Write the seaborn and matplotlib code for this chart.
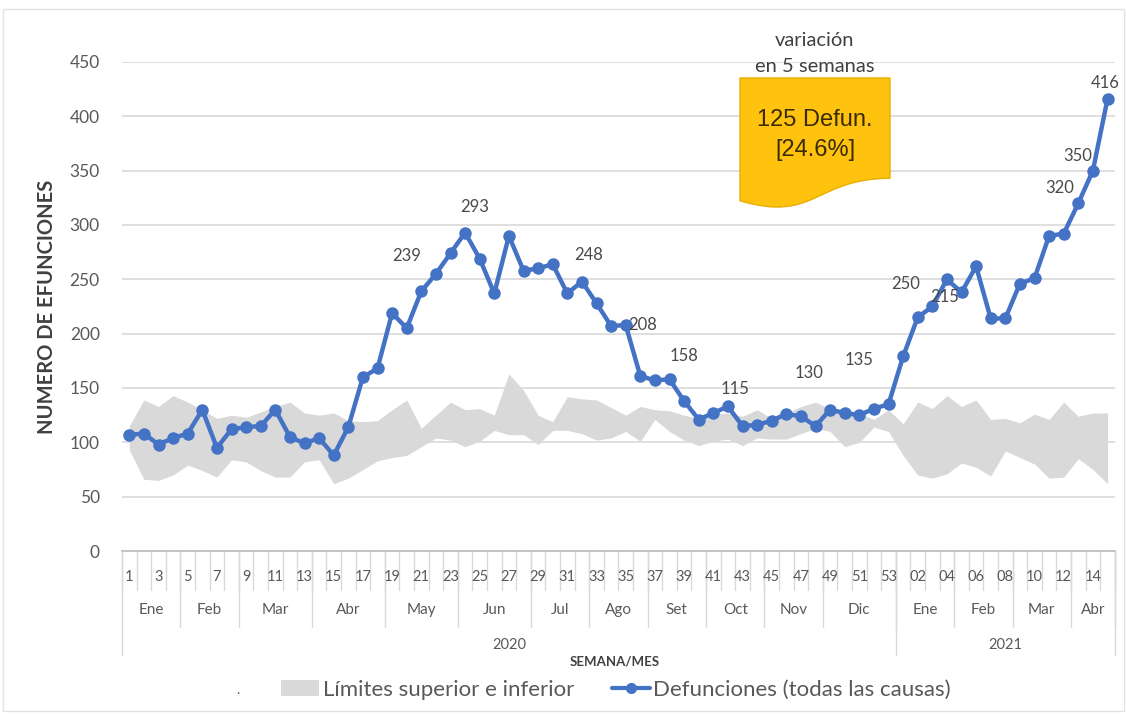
import numpy as np
import pandas as pd
import seaborn as sns
import matplotlib.pyplot as plt
from matplotlib.path import Path
from matplotlib.patches import PathPatch, Patch, Rectangle
from matplotlib.lines import Line2D
from matplotlib.transforms import Affine2D, blended_transform_factory

# semanas epidemiologicas
semanas_2020 = list(range(1, 54))
semanas_2021 = list(range(1, 16))

defunciones_2020 = [107, 108, 98, 104, 108, 130, 95, 112, 114, 115,
                    130, 105, 99, 104, 88, 114, 160, 168, 219, 205,
                    239, 255, 274, 293, 269, 237, 290, 258, 260, 264,
                    237, 248, 228, 207, 208, 161, 157, 158, 138, 121,
                    127, 133, 115, 116, 120, 126, 124, 115, 130, 127,
                    125, 131, 135]
defunciones_2021 = [179, 215, 225, 250, 238, 262, 214, 214, 246, 251,
                    290, 292, 320, 350, 416]

limite_sup_2020 = [115, 139, 133, 143, 137, 130, 122, 125, 123, 128,
                   133, 137, 127, 125, 127, 120, 119, 120, 130, 139,
                   113, 125, 137, 130, 131, 125, 163, 148, 125, 119,
                   142, 140, 139, 132, 125, 133, 130, 129, 125, 122,
                   126, 127, 124, 130, 122, 127, 133, 137, 131, 129,
                   127, 121, 130]
limite_sup_2021 = [117, 137, 131, 143, 133, 139, 121, 122, 118, 126,
                   121, 137, 124, 127, 127]
limite_inf_2020 = [93, 66, 65, 70, 79, 74, 68, 84, 82, 74,
                   68, 68, 82, 84, 62, 67, 75, 83, 86, 88,
                   96, 104, 102, 96, 101, 111, 107, 107, 98, 111,
                   111, 108, 102, 104, 110, 101, 121, 110, 102, 97,
                   101, 103, 97, 104, 103, 103, 108, 113, 110, 96,
                   100, 114, 110]
limite_inf_2021 = [88, 70, 67, 71, 81, 77, 69, 92, 86, 80,
                   67, 68, 85, 75, 62]

meses_2020 = ["Ene", "Feb", "Mar", "Abr", "May", "Jun", "Jul", "Ago", "Set", "Oct", "Nov", "Dic"]
semanas_por_mes_2020 = [4, 4, 5, 5, 5, 5, 4, 4, 4, 4, 4, 5]
meses_2021 = ["Ene", "Feb", "Mar", "Abr"]
semanas_por_mes_2021 = [4, 4, 4, 3]
anios = ["2020", "2021"]

# etiquetas de datos: (anio, semana)
etiquetas = [("2020", 21), ("2020", 24), ("2020", 32), ("2020", 35), ("2020", 38),
             ("2020", 43), ("2020", 49), ("2020", 53), ("2021", 4), ("2021", 2),
             ("2021", 13), ("2021", 14), ("2021", 15)]
desplaz = [(-15, 35), (10, 26), (7, 27), (17, 0), (15, 23),
           (-7, 37), (-21, 37), (-29, 44), (-41, -5), (27, 20),
           (-19, 15), (-15, 15), (-2, 16)]

df = pd.DataFrame({
    "anio": ["2020"] * len(semanas_2020) + ["2021"] * len(semanas_2021),
    "semana": semanas_2020 + semanas_2021,
    "defunciones": defunciones_2020 + defunciones_2021,
    "sup": limite_sup_2020 + limite_sup_2021,
    "inf": limite_inf_2020 + limite_inf_2021,
})
df["idx"] = np.arange(len(df))

sns.set_theme(style="white")
plt.rcParams["font.family"] = ["Lato", "DejaVu Sans"]

W, H = 1126, 718
fig = plt.figure(figsize=(W / 100, H / 100), dpi=100)
ax = fig.add_axes([122 / W, 1 - 551 / H, (1114.8 - 122) / W, (551 - 62) / H])

gris = "#D9D9D9"
azul = "#4472C4"
texto = "#595959"

ax.fill_between(df["idx"], df["inf"], df["sup"], color=gris, lw=0, zorder=1)
sns.lineplot(data=df, x="idx", y="defunciones", ax=ax, color=azul, lw=3.2,
             marker="o", markersize=9, markeredgewidth=0, zorder=3)

ax.set_xlim(-0.5, len(df) - 0.5)
ax.set_ylim(0, 450)
ax.set_yticks(range(0, 451, 50))
ax.tick_params(axis="y", length=0, pad=16, labelsize=12.5, labelcolor=texto)
ax.set_xticks([])
ax.set_xlabel("")
ax.set_ylabel("")
ax.yaxis.grid(True, color=gris, lw=1.2)
ax.set_axisbelow(True)
for s in ["top", "right", "left"]:
    ax.spines[s].set_visible(False)
ax.spines["bottom"].set_color("#BFBFBF")

# etiquetas de datos
for (anio, sem), (dx, dy) in zip(etiquetas, desplaz):
    fila = df[(df["anio"] == anio) & (df["semana"] == sem)].iloc[0]
    ax.annotate(str(fila["defunciones"]), xy=(fila["idx"], fila["defunciones"]),
                xytext=(dx, dy), textcoords="offset pixels", ha="center", va="center",
                fontsize=12, color="#4a4a4a", zorder=5)

# eje x de varios niveles
tr = blended_transform_factory(ax.transData, ax.transAxes)
lin = dict(transform=tr, clip_on=False, color=gris, lw=1)
for i in range(len(df) + 1):
    ax.plot([i - 0.5, i - 0.5], [0, -0.080], **lin)
for _, fila in df.iterrows():
    if fila["anio"] == "2020" and fila["semana"] % 2 == 1:
        ax.text(fila["idx"], -0.053, str(fila["semana"]), transform=tr,
                ha="center", va="center", fontsize=10.5, color=texto)
    if fila["anio"] == "2021" and fila["semana"] % 2 == 0:
        ax.text(fila["idx"], -0.053, "%02d" % fila["semana"], transform=tr,
                ha="center", va="center", fontsize=10.5, color=texto)

inicio = 0
bordes_anio = [-0.5]
for meses, cuentas in [(meses_2020, semanas_por_mes_2020), (meses_2021, semanas_por_mes_2021)]:
    for mes, n in zip(meses, cuentas):
        ax.text(inicio + (n - 1) / 2, -0.121, mes, transform=tr, ha="center",
                va="center", fontsize=11, color=texto)
        ax.plot([inicio + n - 0.5] * 2, [0, -0.155], **lin)
        inicio += n
    bordes_anio.append(inicio - 0.5)
for b in bordes_anio:
    ax.plot([b, b], [0, -0.213], **lin)
for j, anio in enumerate(anios):
    ax.text((bordes_anio[j] + bordes_anio[j + 1]) / 2, -0.192, anio, transform=tr,
            ha="center", va="center", fontsize=10.5, color=texto)

# marco exterior
fig.patches.append(Rectangle((0.003, 0.01), 0.995, 0.978, transform=fig.transFigure,
                             fill=False, edgecolor="#E3E3E3", lw=1))

# textos de figura
fig.text(47 / W, 1 - 307 / H, "NUMERO DE EFUNCIONES", rotation=90, ha="center",
         va="center", fontsize=14.5, fontweight="bold", color="#404040")
fig.text(615 / W, 1 - 662 / H, "SEMANA/MES", ha="center", va="center",
         fontsize=9.5, fontweight="bold", color="#404040")
fig.text(238 / W, 1 - 690 / H, ".", ha="center", va="center", fontsize=10, color=texto)

# leyenda
handles = [Patch(facecolor=gris, edgecolor="none"),
           Line2D([], [], color=azul, lw=3, marker="o", markersize=8, markeredgewidth=0)]
leg = fig.legend(handles, ["Límites superior e inferior", "Defunciones (todas las causas)"],
                 loc="center", bbox_to_anchor=(616 / W, 1 - 690 / H), ncol=2, frameon=False,
                 fontsize=16, handlelength=1.7, handletextpad=0.15, columnspacing=1.7)
for t in leg.get_texts():
    t.set_color(texto)

# recuadro de variacion
px = Affine2D().scale(1 / W, -1 / H).translate(0, 1) + fig.transFigure
x0, y0, w, h = 740, 78, 150, 132
verts = [(x0, y0), (x0 + w, y0), (x0 + w, y0 + 0.76 * h),
         (x0 + 0.5 * w, y0 + 0.76 * h), (x0 + 0.5 * w, y0 + 1.1 * h), (x0, y0 + 0.93 * h),
         (x0, y0)]
codes = [Path.MOVETO, Path.LINETO, Path.LINETO, Path.CURVE4, Path.CURVE4, Path.CURVE4,
         Path.CLOSEPOLY]
fig.patches.append(PathPatch(Path(verts, codes), transform=px, facecolor="#FFC20E",
                             edgecolor="#E8AE00", lw=1, zorder=5))
fig.text(815 / W, 1 - 120 / H, "125 Defun.", ha="center", va="center", fontsize=17,
         color="#3A2C00", family="Liberation Sans", zorder=6)
fig.text(815 / W, 1 - 150 / H, "[24.6%]", ha="center", va="center", fontsize=17,
         color="#3A2C00", family="Liberation Sans", zorder=6)
fig.text(815 / W, 1 - 40 / H, "variación", ha="center", va="center", fontsize=14.5,
         color="#404040")
fig.text(815 / W, 1 - 66 / H, "en 5 semanas", ha="center", va="center", fontsize=14.5,
         color="#404040")

fig.savefig("out.png", dpi=100, facecolor="white")
